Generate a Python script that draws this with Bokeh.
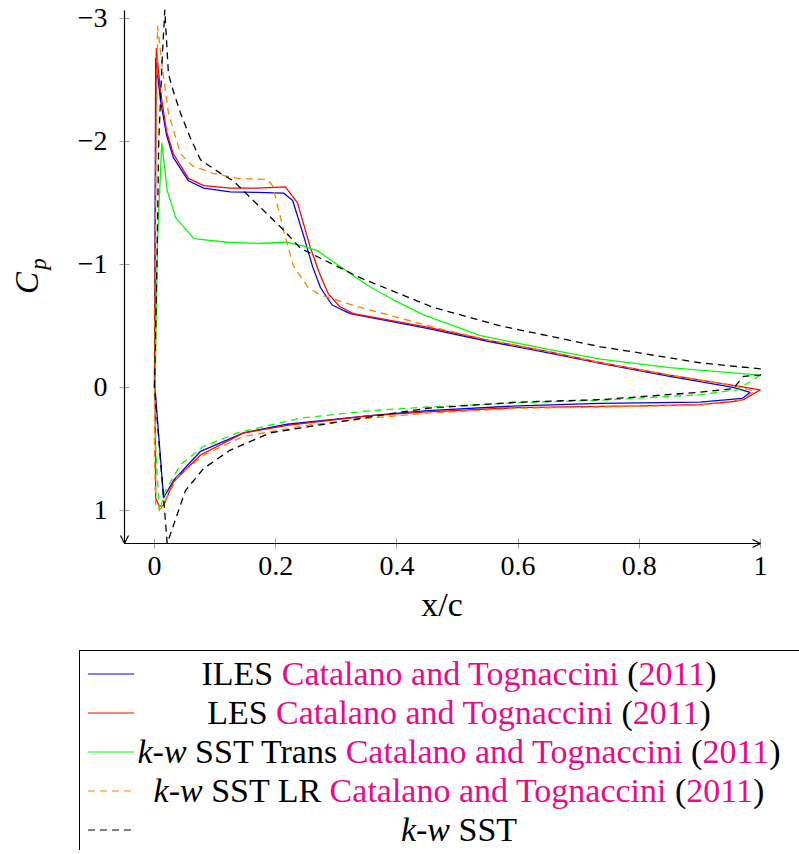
import math
from bokeh.plotting import figure
from bokeh.models import Range1d, FixedTicker, Arrow, OpenHead, Div, Label
from bokeh.layouts import column
from bokeh.embed import file_html
from bokeh.resources import INLINE

# ---------------- data ----------------
iles_x = [0.0, 0.002, 0.01, 0.02, 0.031, 0.056, 0.081, 0.125, 0.17, 0.213, 0.228, 0.245, 0.261, 0.274,
          0.293, 0.323, 0.45, 0.55, 0.65, 0.736, 0.85, 0.955, 0.983,
          0.97, 0.9, 0.736, 0.6, 0.45, 0.356, 0.219, 0.147, 0.076, 0.031, 0.015, 0.0]
iles_cp = [0.0, -2.68, -2.33, -2.05, -1.87, -1.68, -1.62, -1.59, -1.585, -1.58, -1.52, -1.25, -0.98, -0.81,
           -0.67, -0.60, -0.48, -0.375, -0.28, -0.195, -0.09, 0.0, 0.04,
           0.09, 0.12, 0.13, 0.15, 0.19, 0.23, 0.30, 0.37, 0.52, 0.76, 0.90, -0.05]

les_x = [0.0, 0.003, 0.01, 0.02, 0.031, 0.056, 0.081, 0.125, 0.17, 0.216, 0.236, 0.257, 0.272, 0.287,
         0.305, 0.328, 0.45, 0.55, 0.65, 0.736, 0.85, 0.95, 1.0,
         0.972, 0.955, 0.9, 0.8, 0.736, 0.6, 0.45, 0.356, 0.219, 0.147, 0.076, 0.031, 0.015, 0.008, 0.002, 0.001]
les_cp = [0.0, -2.76, -2.4, -2.08, -1.9, -1.7, -1.64, -1.62, -1.62, -1.63, -1.50, -1.14, -0.93, -0.76,
          -0.66, -0.60, -0.49, -0.385, -0.29, -0.2, -0.1, -0.02, 0.02,
          0.10, 0.115, 0.14, 0.15, 0.155, 0.165, 0.20, 0.23, 0.31, 0.37, 0.55, 0.77, 0.96, 0.97, 0.90, 0.0]

trans_up_x = [0.001, 0.005, 0.012, 0.021, 0.035, 0.065, 0.12, 0.17, 0.219, 0.245, 0.269, 0.31, 0.351,
              0.395, 0.444, 0.538, 0.648, 0.736, 0.85, 1.0]
trans_up_cp = [0.0, -1.2, -1.99, -1.6, -1.38, -1.21, -1.18, -1.17, -1.18, -1.15, -1.11, -0.97, -0.83,
               -0.71, -0.59, -0.42, -0.31, -0.23, -0.16, -0.10]
trans_lo_x = [1.0, 0.962, 0.9, 0.736, 0.6, 0.45, 0.356, 0.241, 0.137, 0.081, 0.043, 0.018, 0.008, 0.002, 0.001]
trans_lo_cp = [-0.10, 0.02, 0.06, 0.105, 0.125, 0.16, 0.19, 0.25, 0.37, 0.48, 0.63, 0.84, 1.01, 0.5, 0.0]

lr_x = [0.0, 0.002, 0.005, 0.013, 0.023, 0.043, 0.063, 0.097, 0.137, 0.186, 0.195, 0.213, 0.229, 0.254,
        0.274, 0.34, 0.46, 0.55, 0.65, 0.736, 0.85, 0.95, 0.99,
        0.97, 0.9, 0.736, 0.6, 0.45, 0.356, 0.25, 0.147, 0.081, 0.038, 0.01, 0.002, 0.0, 0.0]
lr_cp = [0.0, -1.5, -2.94, -2.6, -2.23, -1.9, -1.8, -1.74, -1.70, -1.69, -1.64, -1.28, -0.99, -0.81,
         -0.75, -0.65, -0.49, -0.385, -0.29, -0.2, -0.1, -0.02, 0.03,
         0.10, 0.145, 0.16, 0.17, 0.21, 0.25, 0.31, 0.40, 0.55, 0.73, 0.99, 0.98, 0.5, 0.0]

sst_x = [0.0, 0.004, 0.007, 0.013, 0.017, 0.023, 0.031, 0.043, 0.059, 0.076, 0.109, 0.13, 0.163, 0.213,
         0.241, 0.274, 0.34, 0.46, 0.571, 0.736, 0.8, 0.9, 1.0,
         1.0, 0.972, 0.955, 0.9, 0.736, 0.6, 0.45, 0.356, 0.191, 0.125, 0.081, 0.051, 0.021, 0.01, 0.0]
sst_cp = [0.0, -1.0, -2.0, -2.7, -3.07, -2.55, -2.41, -2.23, -2.03, -1.85, -1.74, -1.68, -1.52, -1.28,
          -1.13, -1.05, -0.89, -0.65, -0.5, -0.33, -0.28, -0.2, -0.15,
          -0.10, -0.09, 0.01, 0.04, 0.10, 0.12, 0.17, 0.24, 0.37, 0.51, 0.66, 0.84, 1.27, 0.6, 0.0]

x_ticks = [0, 0.2, 0.4, 0.6, 0.8, 1]
x_tick_labels = ["0", "0.2", "0.4", "0.6", "0.8", "1"]
y_ticks = [-3, -2, -1, 0, 1]
y_tick_labels = ["\u22123", "\u22122", "\u22121", "0", "1"]
x_title = "x/c"
y_title_main, y_title_sub = "C", "p"

legend_names = ["ILES", "LES", "<i>k</i>-<i>w</i> SST Trans", "<i>k</i>-<i>w</i> SST LR", "<i>k</i>-<i>w</i> SST"]
legend_cited = [True, True, True, True, False]
cite_text = "Catalano and Tognaccini"
cite_year = "2011"

# ---------------- styling ----------------
C_BLUE, C_RED, C_GREEN, C_ORANGE, C_BLACK = "#0000ff", "#ff0000", "#00ff00", "#ff8000", "#000000"
C_CITE = "#ea0a8c"
DASH = "7 5"
LW = 1.3
FONT = "Liberation Serif"

# axis placement (data) and pixel geometry of the canvas
x_axis_at, x_axis_end = -0.0495, 1.0
y_axis_top, y_axis_at = -3.065, 1.27
W, H = 799, 640
ax_left_px, ax_right_px = 124, 760
ax_top_px, ax_bottom_px = 10, 543
sx = (ax_right_px - ax_left_px) / (x_axis_end - x_axis_at)
sy = (ax_bottom_px - ax_top_px) / (y_axis_at - y_axis_top)
x_range = Range1d(x_axis_at - ax_left_px / sx, x_axis_end + (W - ax_right_px) / sx)
y_range = Range1d(y_axis_at + (H - ax_bottom_px) / sy, y_axis_top - ax_top_px / sy)

p = figure(width=W, height=H, x_range=x_range, y_range=y_range,
           output_backend="svg", toolbar_location=None,
           min_border_left=0, min_border_right=0, min_border_top=0, min_border_bottom=0)
p.outline_line_color = None
p.grid.visible = False
p.background_fill_color = "white"

p.line(iles_x, iles_cp, line_color=C_BLUE, line_width=LW)
p.line(les_x, les_cp, line_color=C_RED, line_width=LW)
p.line(trans_up_x, trans_up_cp, line_color=C_GREEN, line_width=LW)
p.line(trans_lo_x, trans_lo_cp, line_color=C_GREEN, line_width=LW, line_dash=DASH)
p.line(lr_x, lr_cp, line_color=C_ORANGE, line_width=LW, line_dash=DASH)
p.line(sst_x, sst_cp, line_color=C_BLACK, line_width=LW, line_dash=DASH)

for ax in (p.xaxis[0], p.yaxis[0]):
    ax.axis_line_color = None
    ax.major_tick_line_color = "#999999"
    ax.major_tick_in = 5
    ax.major_tick_out = 5
    ax.minor_tick_line_color = None
    ax.major_label_text_font = FONT
    ax.major_label_text_font_size = "28px"
    ax.major_label_text_color = "black"

p.xaxis.fixed_location = y_axis_at
p.yaxis.fixed_location = x_axis_at

p.xaxis.ticker = FixedTicker(ticks=x_ticks)
p.xaxis.major_label_overrides = {float(t): l for t, l in zip(x_ticks, x_tick_labels)}
p.xaxis.major_label_standoff = 8

p.yaxis.ticker = FixedTicker(ticks=y_ticks)
p.yaxis.major_label_overrides = {float(t): l for t, l in zip(y_ticks, y_tick_labels)}
p.yaxis.major_label_standoff = 12

# axis titles (placed in screen-pixel terms converted to data space)
def px_to_x(px):
    return x_axis_at + (px - ax_left_px) / sx

def px_to_y(py):
    return y_axis_top + (py - ax_top_px) / sy

p.add_layout(Label(x=px_to_x(441.5), y=px_to_y(604), text=x_title, text_font=FONT,
                   text_font_size="34px", text_align="center", text_baseline="alphabetic",
                   text_color="black"))
p.add_layout(Label(x=px_to_x(26), y=px_to_y(282.5), text=y_title_main, angle=math.pi / 2,
                   text_font=FONT, text_font_style="italic", text_font_size="33px",
                   text_align="center", text_baseline="alphabetic", text_color="black"))
p.add_layout(Label(x=px_to_x(38), y=px_to_y(263.5), text=y_title_sub, angle=math.pi / 2,
                   text_font=FONT, text_font_style="italic", text_font_size="23px",
                   text_align="center", text_baseline="alphabetic", text_color="black"))

# axis lines with arrow tips
p.add_layout(Arrow(x_start=x_axis_at, y_start=y_axis_at, x_end=x_axis_end, y_end=y_axis_at,
                   line_color="black", line_width=1.2,
                   end=OpenHead(size=8, line_color="black", line_width=1.2)))
p.add_layout(Arrow(x_start=x_axis_at, y_start=y_axis_top, x_end=x_axis_at, y_end=y_axis_at,
                   line_color="black", line_width=1.2,
                   end=OpenHead(size=8, line_color="black", line_width=1.2)))

# ---------------- legend (HTML) ----------------
legend_styles = [(C_BLUE, None), (C_RED, None), (C_GREEN, None), (C_ORANGE, DASH), (C_BLACK, DASH)]
rows = []
for name, cited, (col, dash) in zip(legend_names, legend_cited, legend_styles):
    dash_attr = f' stroke-dasharray="{dash}"' if dash else ""
    svg = (f'<svg width="46" height="6" style="display:block">'
           f'<line x1="0" y1="3" x2="46" y2="3" stroke="{col}" stroke-width="1.2"{dash_attr}/></svg>')
    txt = name
    if cited:
        txt += (f' <span style="color:{C_CITE}">{cite_text}</span> '
                f'(<span style="color:{C_CITE}">{cite_year}</span>)')
    rows.append(
        f'<tr style="height:39px"><td style="width:51px;padding:0 0 0 8px;vertical-align:middle">{svg}</td>'
        f'<td style="width:650px;padding:0;text-align:center;white-space:nowrap;line-height:39px;'
        f'vertical-align:middle">{txt}</td></tr>')

legend_html = (
    f'<div style="padding:10px 0 0 79px;margin:0;">'
    f'<div style="border-left:1px solid black;border-top:1px solid black;width:720px;height:200px;'
    f'box-sizing:border-box;padding-top:3px;font-family:\'{FONT}\';font-size:34px;color:black">'
    f'<table style="border-collapse:collapse;border-spacing:0">{"".join(rows)}</table></div></div>')

legend = Div(text=legend_html, width=799, height=212, margin=0)

layout = column(p, legend, spacing=0)

open("out.html", "w").write(file_html(layout, INLINE))
